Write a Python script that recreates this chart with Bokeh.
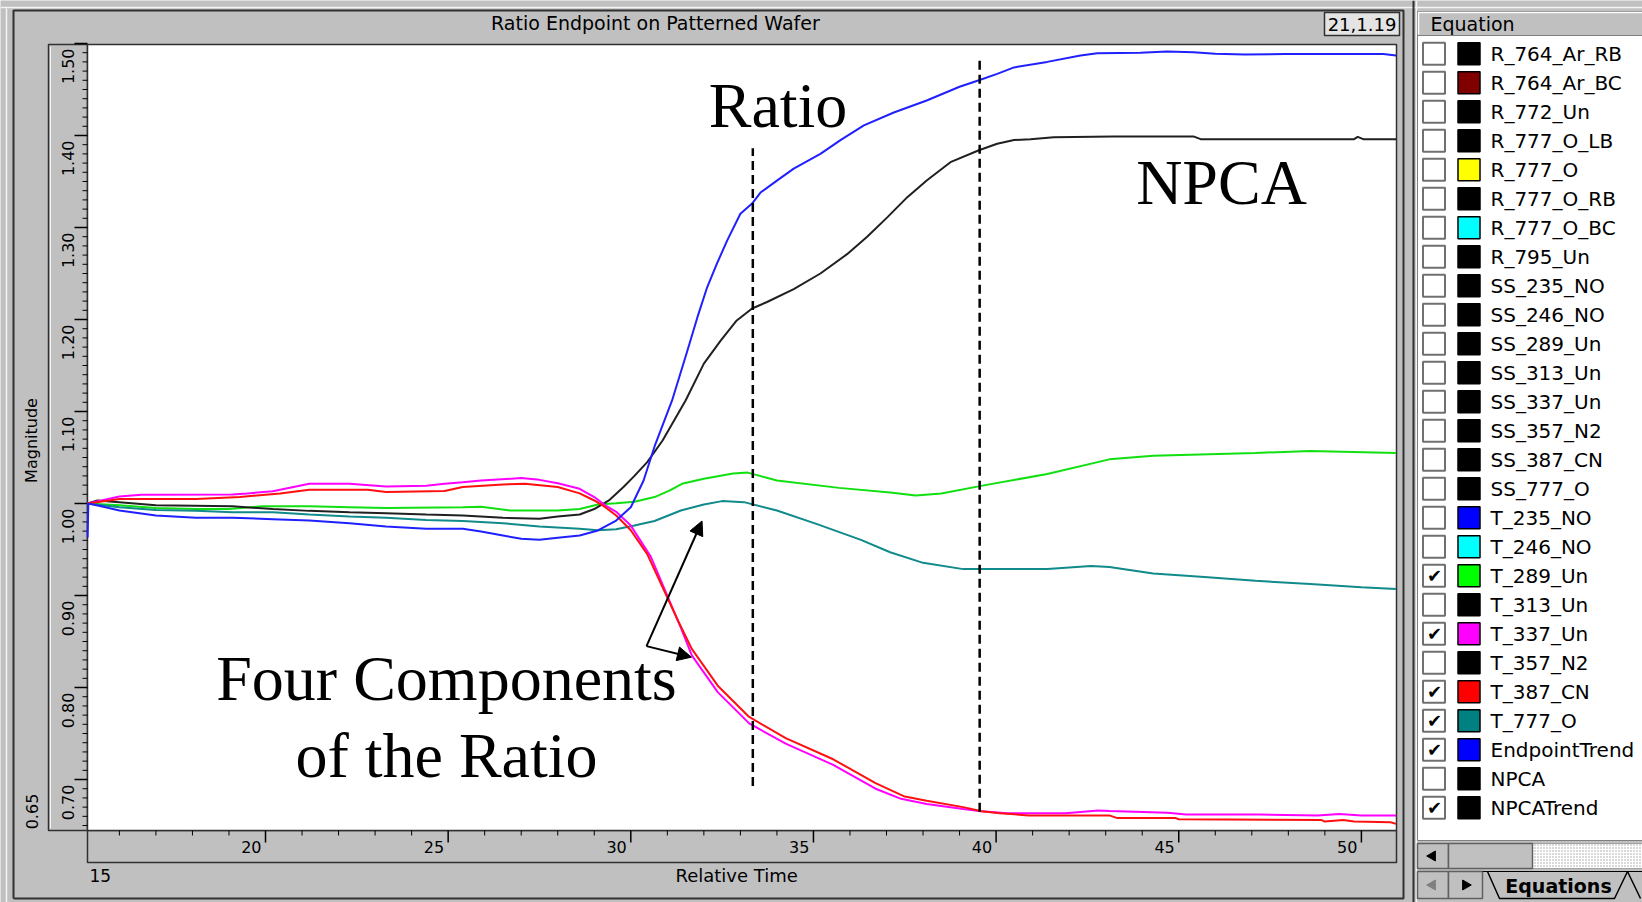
import numpy as np
from bokeh.plotting import figure
from bokeh.models import Range1d, Arrow, NormalHead
from bokeh.core.properties import value
from bokeh.embed import file_html
from bokeh.resources import INLINE

# ---------------- data ----------------
endpoint_t = [15.13, 15.15, 15.5, 16.0, 17.0, 18.1, 19.1, 20.2, 21.2, 22.3, 23.3, 24.4, 25.4, 25.9,
              26.5, 27.0, 27.5, 28.0, 28.6, 29.1, 29.6, 30.0, 30.35, 30.65, 31.13, 31.54, 31.82,
              32.09, 32.36, 32.64, 33.0, 33.32, 33.55, 34.0, 34.46, 35.19, 35.74, 36.38, 37.2,
              38.1, 39.0, 39.53, 40.03, 40.49, 41.4, 42.31, 42.77, 43.95, 44.68, 45.4, 46.0,
              46.8, 47.9, 49.0, 50.6, 50.95]
endpoint_v = [0.963, 1.000, 0.997, 0.9925, 0.987, 0.9845, 0.9845, 0.983, 0.9815, 0.9786, 0.975,
              0.9725, 0.9725, 0.9696, 0.9652, 0.9616, 0.9605, 0.9627, 0.9652, 0.9707, 0.9815,
              0.996, 1.025, 1.062, 1.112, 1.165, 1.202, 1.235, 1.261, 1.286, 1.315, 1.326, 1.338,
              1.351, 1.364, 1.380, 1.395, 1.411, 1.425, 1.438, 1.453, 1.460, 1.467, 1.474, 1.480,
              1.487, 1.4895, 1.490, 1.4913, 1.4905, 1.4888, 1.488, 1.4885, 1.4885, 1.4885, 1.487]

npca_t = [15.13, 15.4, 16.0, 17.0, 19.1, 20.2, 21.2, 22.3, 23.3, 24.4, 25.4, 26.5, 27.5, 28.0,
          28.6, 29.0, 29.4, 29.8, 30.1, 30.45, 30.87, 31.5, 32.0, 32.46, 32.9, 33.32, 33.73,
          34.46, 35.19, 35.92, 36.47, 37.02, 37.57, 38.1, 38.75, 39.53, 40.03, 40.49, 40.94,
          41.58, 43.2, 45.4, 45.6, 49.8, 49.9, 50.05, 50.95]
npca_v = [1.000, 1.0033, 1.0015, 0.998, 0.997, 0.994, 0.992, 0.9906, 0.9895, 0.988, 0.987,
          0.9845, 0.9834, 0.9859, 0.988, 0.994, 1.0033, 1.018, 1.030, 1.045, 1.0685, 1.112,
          1.152, 1.177, 1.199, 1.212, 1.219, 1.233, 1.250, 1.271, 1.290, 1.311, 1.333, 1.351,
          1.371, 1.384, 1.391, 1.395, 1.396, 1.398, 1.399, 1.399, 1.396, 1.396, 1.3985, 1.396,
          1.396]

t289_t = [15.13, 16.0, 17.0, 18.1, 19.0, 19.9, 21.2, 22.3, 23.3, 25.4, 25.9, 26.7, 28.0, 28.6,
          29.1, 29.6, 30.1, 30.65, 31.07, 31.4, 32.0, 32.8, 33.2, 34.0, 35.7, 37.1, 37.8, 38.5,
          39.7, 41.4, 43.1, 44.3, 47.1, 48.6, 50.95]
t289_v = [1.000, 0.998, 0.995, 0.994, 0.994, 0.997, 0.997, 0.996, 0.995, 0.996, 0.9965, 0.9924,
          0.9924, 0.994, 0.999, 1.0004, 1.002, 1.007, 1.0142, 1.0214, 1.027, 1.0326, 1.0336,
          1.025, 1.017, 1.012, 1.0087, 1.011, 1.020, 1.032, 1.048, 1.052, 1.055, 1.057, 1.055]

t777_t = [15.13, 16.0, 17.0, 18.1, 19.1, 20.2, 21.2, 22.3, 23.3, 24.4, 25.4, 26.5, 27.5, 28.6,
          29.1, 29.6, 30.1, 30.65, 31.37, 32.0, 32.5, 33.1, 34.0, 35.1, 36.3, 37.1, 38.0, 39.1,
          40.0, 41.4, 42.6, 43.1, 44.3, 45.7, 47.1, 48.6, 50.0, 50.95]
t777_v = [1.000, 0.996, 0.993, 0.992, 0.9906, 0.9906, 0.988, 0.986, 0.9845, 0.982, 0.981,
          0.9786, 0.975, 0.9725, 0.971, 0.972, 0.976, 0.981, 0.9924, 0.999, 1.0026, 1.0015,
          0.9924, 0.9776, 0.9605, 0.947, 0.9355, 0.9287, 0.9287, 0.9287, 0.932, 0.931, 0.924,
          0.920, 0.916, 0.9125, 0.909, 0.907]

t337_t = [15.13, 16.0, 16.6, 19.1, 19.5, 20.2, 21.2, 22.3, 23.3, 24.4, 24.9, 25.4, 25.9, 27.0,
          27.5, 28.0, 28.6, 29.0, 29.3, 29.6, 30.0, 30.55, 31.38, 31.67, 32.38, 33.24, 34.24,
          35.54, 36.7, 37.4, 38.1, 39.1, 39.6, 40.3, 41.9, 42.8, 43.1, 44.7, 45.2, 47.2, 48.8,
          49.4, 50.0, 50.95]
t337_v = [1.000, 1.0076, 1.0094, 1.0098, 1.011, 1.0134, 1.0214, 1.0214, 1.0185, 1.0192, 1.0214,
          1.0232, 1.025, 1.0276, 1.0257, 1.022, 1.016, 1.007, 0.998, 0.991, 0.976, 0.942, 0.864,
          0.835, 0.795, 0.761, 0.739, 0.716, 0.690, 0.679, 0.6735, 0.668, 0.6655, 0.6634,
          0.6634, 0.6663, 0.6658, 0.664, 0.662, 0.662, 0.661, 0.6625, 0.661, 0.661]

t387_t = [15.13, 16.0, 18.1, 19.3, 20.4, 21.2, 22.8, 23.3, 24.9, 25.4, 26.5, 27.1, 28.0, 28.6,
          29.0, 29.3, 29.6, 30.0, 30.45, 31.3, 31.67, 32.38, 33.24, 34.24, 35.54, 36.7, 37.5,
          38.1, 39.1, 39.6, 40.1, 40.9, 43.1, 43.3, 44.9, 45.0, 48.9, 49.0, 49.5, 49.8, 50.8,
          50.95]
t387_v = [1.000, 1.005, 1.005, 1.007, 1.011, 1.015, 1.015, 1.0124, 1.0135, 1.018, 1.0207,
          1.0214, 1.018, 1.011, 1.0033, 0.996, 0.987, 0.971, 0.945, 0.872, 0.842, 0.802, 0.768,
          0.745, 0.722, 0.696, 0.6815, 0.677, 0.670, 0.6655, 0.6634, 0.661, 0.661, 0.6583,
          0.6583, 0.6568, 0.6561, 0.6543, 0.6561, 0.6543, 0.6536, 0.6518]

x_tick_values = [20, 25, 30, 35, 40, 45, 50]
x_tick_labels = ["20", "25", "30", "35", "40", "45", "50"]
y_tick_values = [0.70, 0.80, 0.90, 1.00, 1.10, 1.20, 1.30, 1.40, 1.50]
y_tick_labels = ["0.70", "0.80", "0.90", "1.00", "1.10", "1.20", "1.30", "1.40", "1.50"]

marker_t = [33.34, 39.55]
marker_top = [1.386, 1.482]
marker_bottom = [0.693, 0.665]

note_text = ["Ratio", "NPCA", "Four Components", "of the Ratio"]
note_x = [34.03, 46.17, 24.955, 24.955]
note_y = [1.4322, 1.3492, 0.8099, 0.7257]

arrow_start = (30.43, 0.845)
arrow_end_x = [31.95, 31.66]
arrow_end_y = [0.981, 0.833]

legend_names = ["R_764_Ar_RB", "R_764_Ar_BC", "R_772_Un", "R_777_O_LB", "R_777_O",
                "R_777_O_RB", "R_777_O_BC", "R_795_Un", "SS_235_NO", "SS_246_NO",
                "SS_289_Un", "SS_313_Un", "SS_337_Un", "SS_357_N2", "SS_387_CN", "SS_777_O",
                "T_235_NO", "T_246_NO", "T_289_Un", "T_313_Un", "T_337_Un", "T_357_N2",
                "T_387_CN", "T_777_O", "EndpointTrend", "NPCA", "NPCATrend"]
legend_colors = ["#000000", "#800000", "#000000", "#000000", "#ffff00", "#000000", "#00ffff",
                 "#000000", "#000000", "#000000", "#000000", "#000000", "#000000", "#000000",
                 "#000000", "#000000", "#0000ff", "#00ffff", "#00ff00", "#000000", "#ff00ff",
                 "#000000", "#ff0000", "#008080", "#0000ff", "#000000", "#000000"]
legend_checked = [False] * 18 + [True, False, True, False, True, True, True, False, True]

# ---------------- layout / style constants ----------------
GRAY = "#c0c0c0"
DARK = "#303030"
W, H = 1642, 902
PL, PR, PT, PB = 87, 1396, 44, 830            # plot rectangle (pixels)
XMIN, XMAX = 15.127, 50.961                  # axis limits
YMIN, YMAX = 0.6446, 1.4989
kx = (XMAX - XMIN) / (PR - PL)
ky = (YMAX - YMIN) / (PB - PT)

p = figure(width=W, height=H, output_backend="svg", toolbar_location=None,
           x_range=Range1d(0, W), y_range=Range1d(H, 0), min_border=0,
           x_axis_location=None, y_axis_location=None, outline_line_color=None,
           background_fill_color=GRAY, border_fill_color=GRAY)
p.grid.visible = False
# data scales: the plot rectangle shows XMIN..XMAX / YMIN..YMAX
p.extra_x_ranges = {"time": Range1d(XMIN - PL * kx, XMAX + (W - PR) * kx)}
p.extra_y_ranges = {"mag": Range1d(YMIN - (H - PB) * ky, YMAX + PT * ky)}
D = dict(x_range_name="time", y_range_name="mag")

FONT = value("DejaVu Sans")

# ---------- window chrome ----------
p.segment(x0=0, y0=7, x1=W, y1=7, line_color="#f4f4f4", line_width=1.5)
p.segment(x0=6, y0=8, x1=6, y1=H, line_color="#f4f4f4", line_width=1.5)
p.line(x=[13, 13, 1403, 1403, 13], y=[898, 10, 10, 898, 898], line_color=DARK, line_width=2)
p.segment(x0=1413, y0=0, x1=1413, y1=H, line_color=DARK, line_width=2)
p.segment(x0=1416, y0=0, x1=1416, y1=H, line_color="#f4f4f4", line_width=1.5)

p.text(x=[667], y=[22.5], text=["Ratio  Endpoint  on  Patterned  Wafer"], text_align="center",
       text_baseline="middle", text_font=FONT, text_font_size="19px", text_color="black")
p.quad(left=1324, right=1399, top=12, bottom=35, fill_color="#e4e4e4", line_color=DARK,
       line_width=1.5)
p.text(x=[1361.5], y=[24], text=["21,1.19"], text_align="center", text_baseline="middle",
       text_font=FONT, text_font_size="18px", text_color="black")

# axis strips
p.quad(left=48, right=PL, top=PT, bottom=PB, fill_alpha=0, line_color=DARK, line_width=1.5)
p.segment(x0=50, y0=PT + 2, x1=50, y1=PB - 2, line_color="#f4f4f4", line_width=1)
p.quad(left=PL, right=PR, top=PB, bottom=862, fill_alpha=0, line_color=DARK, line_width=1.5)

# plot area
p.quad(left=XMIN, right=XMAX, bottom=YMIN, top=YMAX, fill_color="white", line_color=DARK,
       line_width=1.5, **D)

# ticks
x_minor = [v for v in range(16, 51) if v not in x_tick_values]
y_minor = [v for v in np.round(np.arange(0.65, 1.50, 0.01), 2) if v not in y_tick_values]
p.ray(x=x_tick_values, y=YMIN, length=12, angle=-np.pi / 2, length_units="screen",
      line_color="black", line_width=1.5, **D)
p.ray(x=x_minor, y=YMIN, length=5, angle=-np.pi / 2, length_units="screen",
      line_color="black", line_width=1, **D)
p.ray(x=XMIN, y=y_tick_values, length=13, angle=np.pi, length_units="screen",
      line_color="black", line_width=1.5, **D)
p.ray(x=XMIN, y=y_minor, length=5, angle=np.pi, length_units="screen",
      line_color="black", line_width=1, **D)

# tick labels: each label ends at its tick
p.text(x=x_tick_values, y=YMIN, text=x_tick_labels, x_offset=-4, y_offset=16,
       text_align="right", text_baseline="middle", text_font=FONT, text_font_size="16px",
       text_color="black", **D)
p.text(x=XMIN, y=y_tick_values, text=y_tick_labels, x_offset=-20, y_offset=5, angle=np.pi / 2,
       text_align="right", text_baseline="middle", text_font=FONT, text_font_size="16px",
       text_color="black", **D)

# axis titles and range minima
p.text(x=[31], y=[440], text=["Magnitude"], angle=np.pi / 2, text_align="center",
       text_baseline="middle", text_font=FONT, text_font_size="16px", text_color="black")
p.text(x=[31], y=[811], text=["0.65"], angle=np.pi / 2, text_align="center",
       text_baseline="middle", text_font=FONT, text_font_size="16px", text_color="black")
p.text(x=[89], y=[875], text=["15"], text_align="left", text_baseline="middle",
       text_font=FONT, text_font_size="17px", text_color="black")
p.text(x=[739], y=[875], text=["Relative  Time"], text_align="center", text_baseline="middle",
       text_font=FONT, text_font_size="18px", text_color="black")

# ---------- curves ----------
series = [(t289_t, t289_v, "#10e010"), (t777_t, t777_v, "#108a8a"),
          (npca_t, npca_v, "#202020"), (t337_t, t337_v, "#ff00ff"),
          (t387_t, t387_v, "#ff1010"), (endpoint_t, endpoint_v, "#2020ff")]
for t, v, c in series:
    p.line(t, v, line_color=c, line_width=2, **D)

p.segment(x0=marker_t, y0=marker_bottom, x1=marker_t, y1=marker_top,
          line_color="black", line_width=2.5, line_dash="9 5", **D)

p.text(x=note_x, y=note_y, text=note_text, text_align="center", text_baseline="middle",
       text_font=value("Liberation Serif"), text_font_size="64px", text_color="black", **D)

for ex, ey in zip(arrow_end_x, arrow_end_y):
    p.add_layout(Arrow(end=NormalHead(size=14, fill_color="black", line_color="black"),
                       x_start=arrow_start[0], y_start=arrow_start[1], x_end=ex, y_end=ey,
                       line_color="black", line_width=2, **D))

# ---------- equation panel ----------
p.quad(left=1417, right=1650, top=35, bottom=840, fill_color="white", line_color="#808080")
p.quad(left=1417, right=1650, top=11, bottom=35, fill_color=GRAY, line_color="#808080")
p.line(x=[1418, 1418, 1650], y=[34, 12, 12], line_color="white", line_width=1.5)
p.text(x=[1430], y=[23.5], text=["Equation"], text_baseline="middle", text_font=FONT,
       text_font_size="19px", text_color="black")

n = len(legend_names)
row_y = 53.3 + 29.0 * np.arange(n)
p.rect(x=1433.5, y=row_y, width=22, height=22, fill_color="white", line_color="#707070",
       line_width=2)
chk_y = [yy for yy, c in zip(row_y, legend_checked) if c]
p.text(x=[1434] * len(chk_y), y=chk_y, text=["\u2714"] * len(chk_y), text_align="center",
       text_baseline="middle", text_font=FONT, text_font_size="18px", text_color="black")
p.rect(x=1468.5, y=row_y, width=22, height=22, fill_color=legend_colors, line_color="black",
       line_width=1.5)
p.text(x=[1490] * n, y=row_y, text=legend_names, text_baseline="middle", text_font=FONT,
       text_font_size="20px", text_color="black")

# scrollbar
p.quad(left=1532, right=1650, top=843, bottom=868, fill_color="white", line_color="#a0a0a0",
       hatch_pattern="dot", hatch_color="#a0a0a0", hatch_scale=3)
p.quad(left=[1417, 1448], right=[1448, 1532], top=843, bottom=868, fill_color=GRAY,
       line_color="#606060", line_width=1.5)
p.scatter(x=[1432], y=[855.5], marker="triangle", angle=np.pi / 2, size=10, color="black")
# sheet tabs
p.quad(left=[1417, 1448], right=[1448, 1482], top=871, bottom=898, fill_color=GRAY,
       line_color="#606060", line_width=1.5)
p.scatter(x=[1432, 1465], y=[884.5, 884.5], marker="triangle", angle=[np.pi / 2, -np.pi / 2],
          size=10, color=["#808080", "black"])
p.line(x=[1487, 1499, 1614, 1627, 1640], y=[871, 898, 898, 871, 898], line_color="black",
       line_width=1.5)
p.segment(x0=1482, y0=871, x1=1642, y1=871, line_color="black", line_width=1)
p.text(x=[1558], y=[885], text=["Equations"], text_align="center", text_baseline="middle",
       text_font=FONT, text_font_size="19px", text_font_style="bold", text_color="black")

open("out.html", "w").write(file_html(p, INLINE))
